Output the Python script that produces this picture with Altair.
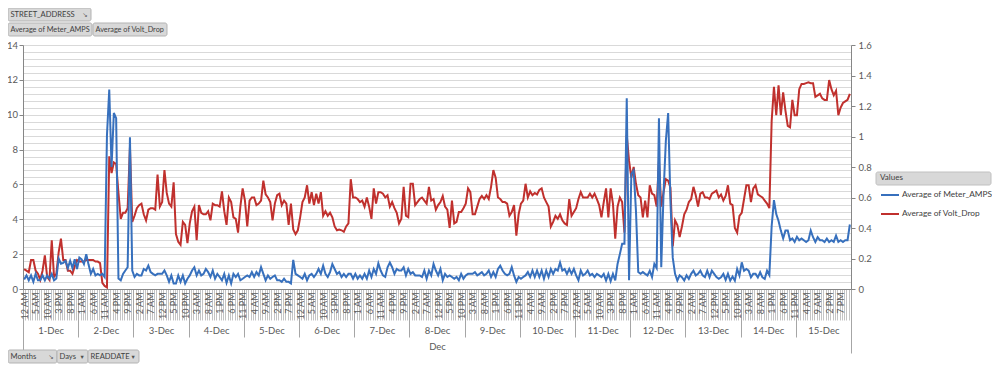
import json
import altair as alt
import pandas as pd

# ---------------- data (hourly averages, 1-Dec 12 AM .. 15-Dec 11 PM) ----------------
meter_amps = [
    0.55, 0.78, 0.5, 0.78, 0.41, 0.87, 0.5, 0.5, 0.78, 0.5, 0.78, 0.59, 0.87, 0.5, 0.6, 1.75, 1.45, 1.5, 1.62, 1.2, 1.62, 1.2, 1.71, 1.15,
    1.8, 1.7, 1.43, 2.0, 1.4, 0.87, 1.15, 0.78, 0.87, 0.78, 0.87, 0.69, 8.8, 11.45, 7.0, 10.1, 9.8, 0.6, 0.5, 0.87, 1.06, 1.25, 8.7, 1.06,
    0.69, 0.87, 0.78, 0.78, 1.15, 1.06, 1.34, 0.97, 0.87, 0.78, 0.87, 0.87, 0.87, 1.06, 0.78, 0.41, 0.78, 0.32, 0.32, 0.78, 0.41, 0.78, 0.32, 0.59,
    0.78, 1.06, 1.25, 0.78, 1.06, 0.78, 0.87, 1.15, 0.97, 0.69, 1.06, 0.59, 0.87, 0.69, 0.5, 0.87, 0.35, 0.78, 0.32, 0.87, 0.69, 0.87, 0.5, 0.59,
    0.69, 0.78, 0.69, 0.97, 0.69, 0.97, 0.78, 1.25, 0.87, 0.5, 0.78, 0.59, 0.69, 0.78, 0.5, 0.5, 0.41, 0.59, 0.41, 0.41, 0.32, 1.67, 0.87, 0.78,
    0.69, 0.59, 0.87, 0.5, 0.78, 0.87, 0.69, 0.87, 1.15, 0.87, 1.34, 0.87, 0.69, 0.97, 1.43, 1.15, 0.87, 0.97, 0.69, 0.87, 0.69, 0.87, 0.87, 0.59,
    0.87, 0.59, 0.78, 0.59, 0.87, 0.59, 1.06, 0.69, 1.15, 0.87, 1.47, 1.06, 0.78, 0.69, 1.25, 1.52, 1.25, 0.87, 1.15, 1.06, 1.06, 1.25, 0.78, 1.15,
    0.87, 0.97, 0.78, 0.78, 0.78, 0.69, 1.06, 0.59, 1.06, 0.78, 1.43, 1.06, 0.78, 1.15, 0.5, 0.87, 0.69, 0.78, 0.69, 0.59, 0.69, 0.5, 0.87, 0.59,
    0.78, 0.87, 0.87, 0.87, 0.97, 0.78, 0.87, 0.97, 0.78, 0.87, 1.06, 0.69, 0.97, 0.69, 1.15, 1.34, 1.06, 0.87, 0.78, 0.87, 1.25, 0.78, 0.41, 0.69,
    0.59, 0.69, 0.78, 0.97, 0.69, 1.06, 0.69, 1.06, 0.69, 1.06, 0.59, 1.06, 0.69, 1.15, 0.87, 1.15, 1.06, 1.52, 1.06, 1.15, 0.87, 1.15, 0.87, 1.15,
    0.78, 0.5, 1.06, 0.78, 0.87, 1.06, 0.78, 0.87, 0.69, 0.87, 0.78, 0.68, 0.87, 0.49, 0.87, 0.45, 0.87, 0.49, 1.44, 2.0, 2.6, 2.6, 10.95, 0.5,
    6.6, 6.8, 4.5, 0.97, 0.87, 0.97, 0.87, 0.78, 1.05, 0.68, 1.44, 1.2, 9.8, 1.25, 5.5, 8.5, 10.1, 5.0, 1.8, 0.87, 0.49, 0.78, 0.68, 0.49,
    0.78, 0.58, 0.87, 1.05, 0.78, 0.87, 1.05, 0.78, 0.68, 1.05, 0.68, 1.05, 0.87, 0.68, 0.58, 0.67, 0.87, 0.52, 0.87, 0.48, 0.71, 0.48, 1.15, 0.77,
    1.53, 1.05, 1.15, 1.05, 0.67, 0.87, 0.87, 0.67, 0.96, 0.67, 0.58, 1.05, 0.8, 3.6, 5.1, 4.3, 3.9, 3.35, 2.9, 3.35, 3.35, 2.8, 2.9, 2.7,
    3.0, 2.8, 2.9, 2.8, 2.7, 2.8, 3.35, 2.97, 2.7, 2.97, 2.8, 2.8, 2.7, 2.9, 2.7, 2.8, 2.7, 3.06, 2.7, 2.8, 2.7, 2.8, 2.8, 3.7,
]

volt_drop = [
    0.13, 0.12, 0.11, 0.19, 0.19, 0.12, 0.10, 0.06, 0.12, 0.22, 0.08, 0.06, 0.32, 0.08, 0.10, 0.24, 0.33, 0.19, 0.19, 0.12, 0.12, 0.10, 0.15, 0.19,
    0.18, 0.18, 0.18, 0.19, 0.19, 0.19, 0.19, 0.18, 0.18, 0.17, 0.04, 0.02, 0.01, 0.87, 0.76, 0.83, 0.82, 0.63, 0.46, 0.50, 0.50, 0.53, 0.93, 0.44,
    0.48, 0.53, 0.55, 0.56, 0.49, 0.45, 0.52, 0.53, 0.53, 0.52, 0.75, 0.54, 0.57, 0.78, 0.63, 0.56, 0.54, 0.70, 0.36, 0.31, 0.29, 0.44, 0.42, 0.30,
    0.43, 0.51, 0.54, 0.32, 0.55, 0.50, 0.49, 0.49, 0.51, 0.45, 0.56, 0.55, 0.55, 0.54, 0.64, 0.51, 0.42, 0.60, 0.57, 0.47, 0.46, 0.37, 0.54, 0.66,
    0.58, 0.41, 0.58, 0.60, 0.60, 0.55, 0.56, 0.58, 0.71, 0.62, 0.60, 0.57, 0.45, 0.56, 0.615, 0.625, 0.55, 0.58, 0.56, 0.42, 0.56, 0.39, 0.36, 0.385,
    0.47, 0.57, 0.60, 0.68, 0.56, 0.635, 0.55, 0.625, 0.56, 0.635, 0.48, 0.51, 0.48, 0.50, 0.47, 0.41, 0.385, 0.39, 0.385, 0.375, 0.41, 0.43, 0.72, 0.60,
    0.60, 0.59, 0.57, 0.58, 0.54, 0.60, 0.54, 0.46, 0.66, 0.56, 0.635, 0.635, 0.625, 0.60, 0.615, 0.54, 0.57, 0.53, 0.50, 0.43, 0.46, 0.67, 0.48, 0.47,
    0.69, 0.69, 0.55, 0.57, 0.59, 0.60, 0.58, 0.56, 0.67, 0.58, 0.59, 0.52, 0.55, 0.57, 0.61, 0.54, 0.52, 0.40, 0.58, 0.43, 0.44, 0.505, 0.505, 0.53,
    0.56, 0.66, 0.635, 0.49, 0.49, 0.54, 0.59, 0.61, 0.59, 0.615, 0.59, 0.67, 0.78, 0.73, 0.60, 0.59, 0.57, 0.57, 0.56, 0.48, 0.505, 0.55, 0.35, 0.49,
    0.56, 0.58, 0.69, 0.60, 0.64, 0.615, 0.63, 0.62, 0.65, 0.66, 0.60, 0.57, 0.54, 0.41, 0.44, 0.48, 0.46, 0.49, 0.45, 0.43, 0.42, 0.59, 0.48, 0.505,
    0.53, 0.59, 0.635, 0.60, 0.60, 0.60, 0.625, 0.60, 0.625, 0.59, 0.55, 0.47, 0.57, 0.66, 0.47, 0.66, 0.56, 0.33, 0.54, 0.60, 0.57, 0.37, 1.01, 0.84,
    0.73, 0.80, 0.69, 0.615, 0.60, 0.47, 0.58, 0.47, 0.68, 0.625, 0.615, 0.54, 0.84, 0.54, 0.635, 0.72, 0.71, 0.665, 0.28, 0.45, 0.42, 0.34, 0.41, 0.49,
    0.52, 0.57, 0.59, 0.67, 0.615, 0.54, 0.625, 0.635, 0.60, 0.60, 0.59, 0.625, 0.635, 0.645, 0.60, 0.62, 0.58, 0.61, 0.68, 0.56, 0.55, 0.40, 0.37, 0.48,
    0.50, 0.59, 0.68, 0.68, 0.57, 0.66, 0.68, 0.62, 0.61, 0.60, 0.58, 0.56, 0.53, 1.10, 1.325, 1.14, 1.336, 1.14, 1.29, 1.17, 1.07, 1.06, 1.24, 1.14,
    1.14, 1.31, 1.345, 1.345, 1.35, 1.355, 1.35, 1.35, 1.26, 1.27, 1.28, 1.25, 1.24, 1.24, 1.37, 1.31, 1.27, 1.30, 1.14, 1.19, 1.22, 1.23, 1.24, 1.28,
]

hour_labels = ["12 AM", "1 AM", "2 AM", "3 AM", "4 AM", "5 AM", "6 AM", "7 AM", "8 AM", "9 AM", "10 AM", "11 AM",
               "12 PM", "1 PM", "2 PM", "3 PM", "4 PM", "5 PM", "6 PM", "7 PM", "8 PM", "9 PM", "10 PM", "11 PM"]
day_labels = ["1-Dec", "2-Dec", "3-Dec", "4-Dec", "5-Dec", "6-Dec", "7-Dec", "8-Dec", "9-Dec", "10-Dec",
              "11-Dec", "12-Dec", "13-Dec", "14-Dec", "15-Dec"]
month_label = "Dec"
series_names = ["Average of Meter_AMPS", "Average of Volt_Drop"]
legend_title = "Values"
top_buttons = ["STREET_ADDRESS", "Average of Meter_AMPS", "Average of Volt_Drop"]
bottom_buttons = ["Months", "Days", "READDATE"]

# ---------------- styling ----------------
FONT = "Lato"
BLUE = "#3770bd"
RED = "#c0302d"
TXT = "#595959"
n = len(meter_amps)
hours_per_day = len(hour_labels)

df = pd.DataFrame({"idx": list(range(n)), "amps": meter_amps, "volt": volt_drop})
base = alt.Chart(df)

xs = alt.Scale(domain=[-0.5, n - 0.5], nice=False, zero=False)
ys_left = alt.Scale(domain=[0, 14], nice=False, zero=True)
ys_right = alt.Scale(domain=[0, 1.6], nice=False, zero=True)
color_scale = alt.Scale(domain=series_names, range=[BLUE, RED])

hour_expr = json.dumps(hour_labels) + "[datum.value % 24]"
day_expr = json.dumps(day_labels) + "[floor(datum.value / 24)]"

# grid layer (minor gridlines + category hatch ticks)
grid_layer = base.mark_line(opacity=0).encode(
    x=alt.X("idx:Q", scale=xs, axis=alt.Axis(
        orient="bottom", values=[k - 0.5 for k in range(n + 1)], labels=False, ticks=True,
        tickSize=31, tickColor="#c4c4c4", tickWidth=1, domain=False, grid=False, title=None)),
    y=alt.Y("amps:Q", scale=ys_left, axis=alt.Axis(
        orient="left", values=[round(0.4 * k, 1) for k in range(1, 36)], grid=True,
        gridColor="#d9d9d9", gridWidth=1, labels=False, ticks=False, domain=False, title=None)),
)

# blue series, left axis, hour labels
blue_layer = base.transform_calculate(series=f"'{series_names[0]}'").mark_line(strokeWidth=2).encode(
    x=alt.X("idx:Q", scale=xs, axis=alt.Axis(
        orient="bottom", values=list(range(0, n, 5)), labelExpr=hour_expr, labelAngle=-90,
        labelFont=FONT, labelFontSize=9, labelColor=TXT, labelPadding=3, labelFlush=False,
        labelOverlap=False, ticks=False, domain=True, domainColor="#868686", grid=False, title=None)),
    y=alt.Y("amps:Q", scale=ys_left, axis=alt.Axis(
        orient="left", values=list(range(0, 15, 2)), format="d", grid=False, tickSize=4,
        tickColor="#868686", domainColor="#868686", labelFont=FONT, labelFontSize=9.5,
        labelColor=TXT, labelPadding=1.5, title=None)),
    color=alt.Color("series:N", scale=color_scale, legend=alt.Legend(
        title=legend_title, orient="none", legendX=857, legendY=129, direction="vertical",
        symbolType="stroke", symbolSize=324, symbolStrokeWidth=2, labelFont=FONT,
        labelFontSize=8.3, labelColor="#404040", labelOffset=2, labelLimit=200, titleFont=FONT,
        titleFontSize=8, titleFontWeight="normal", titleColor="#404040", titlePadding=3,
        rowPadding=5, padding=0)),
)

# red series, right axis, day separators
red_layer = base.transform_calculate(series=f"'{series_names[1]}'").mark_line(strokeWidth=2).encode(
    x=alt.X("idx:Q", scale=xs, axis=alt.Axis(
        orient="bottom", values=[d * hours_per_day - 0.5 for d in range(len(day_labels) + 1)],
        labels=False, ticks=True, tickSize=48, tickColor="#a6a6a6", domain=False, grid=False,
        title=None)),
    y=alt.Y("volt:Q", scale=ys_right, axis=alt.Axis(
        orient="right", values=[0, 0.2, 0.4, 0.6, 0.8, 1, 1.2, 1.4, 1.6], format="~g",
        grid=False, tickSize=4, tickColor="#868686", domainColor="#868686", labelFont=FONT,
        labelFontSize=9.5, labelColor=TXT, labelPadding=3, title=None)),
    color=alt.Color("series:N", scale=color_scale),
)

# day labels + month title
day_layer = base.mark_line(opacity=0).encode(
    x=alt.X("idx:Q", scale=xs, axis=alt.Axis(
        orient="bottom", values=[d * hours_per_day + 11.5 for d in range(len(day_labels))],
        labelExpr=day_expr, labelFont=FONT, labelFontSize=9.5, labelColor=TXT, labelPadding=36,
        labelFlush=False, labelOverlap=False, ticks=False, domain=False, grid=False,
        title=month_label, titleFont=FONT, titleFontSize=9.5, titleFontWeight="normal",
        titleColor=TXT, titlePadding=7)),
    y=alt.Y("amps:Q", scale=ys_left, axis=None),
)

# outer boundary ticks of the month level
outer_layer = base.mark_line(opacity=0).encode(
    x=alt.X("idx:Q", scale=xs, axis=alt.Axis(
        orient="bottom", values=[-0.5, n - 0.5], labels=False, ticks=True, tickSize=64,
        tickColor="#a6a6a6", domain=False, grid=False, title=None)),
    y=alt.Y("amps:Q", scale=ys_left, axis=None),
)


def button(label, x0, x1, y0, y1, icon=None, size=7.6):
    d = alt.Chart(pd.DataFrame({"t": [label]}))
    rect = d.mark_rect(fill="#d8d8d8", stroke="#b3b3b3", strokeWidth=1, cornerRadius=2).encode(
        x=alt.value(x0), x2=alt.value(x1), y=alt.value(y0), y2=alt.value(y1))
    txt = d.mark_text(align="left", baseline="middle", font=FONT, fontSize=size, color="#404040").encode(
        text="t:N", x=alt.value(x0 + 2.5), y=alt.value((y0 + y1) / 2 + 0.5))
    layers = [rect, txt]
    if icon:
        arr = d.mark_text(align="center", baseline="middle", font="DejaVu Sans", fontSize=6.5,
                          color="#505050", text=icon).encode(
            x=alt.value(x1 - 6), y=alt.value((y0 + y1) / 2 + 0.5))
        layers.append(arr)
    return layers


# legend title background
legend_bg = alt.Chart(pd.DataFrame({"t": [legend_title]})).mark_rect(
    fill="#d8d8d8", stroke="#c0c0c0", strokeWidth=1, cornerRadius=2).encode(
    x=alt.value(853), x2=alt.value(968), y=alt.value(127), y2=alt.value(140))

extras = [legend_bg]
extras += button(top_buttons[0], -15, 68, -37, -24, icon="\u2198")
extras += button(top_buttons[1], -15, 69, -22, -9, size=7.3)
extras += button(top_buttons[2], 70, 144, -22, -9, size=7.3)
extras += button(bottom_buttons[0], -15, 34, 305, 318, icon="\u2198")
extras += button(bottom_buttons[1], 34, 65, 305, 318, icon="\u25BE")
extras += button(bottom_buttons[2], 65, 116, 305, 318, icon="\u25BE")

chart = alt.layer(
    *extras, grid_layer, outer_layer, day_layer, red_layer, blue_layer,
).resolve_scale(
    y="independent"
).resolve_axis(
    x="independent", y="independent"
).properties(
    width=828, height=244,
    autosize=alt.AutoSizeParams(type="none"),
    padding={"left": 15, "top": 37, "right": 141, "bottom": 75},
    background="white",
).configure_view(strokeWidth=0)

chart.save("out.html", embed_options={"renderer": "svg", "actions": False})
